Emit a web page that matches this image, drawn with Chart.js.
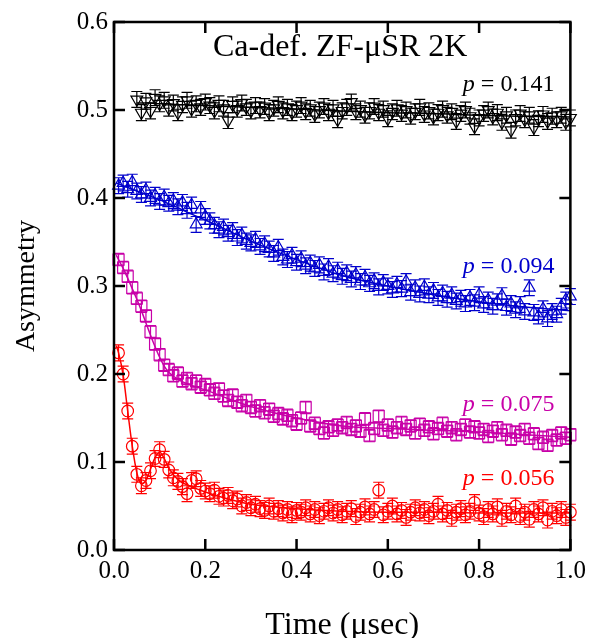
<!DOCTYPE html>
<html>
<head>
<meta charset="utf-8">
<script src="https://cdn.jsdelivr.net/npm/chart.js@4"></script>
<style>
	body { margin: 0; background: #fff; }
</style>
</head>
<body>
<canvas id="myChart" width="592" height="638"></canvas>
<script>
// time bins (usec)
const times = [
	0.01, 0.02, 0.03, 0.04, 0.05, 0.06, 0.07, 0.08, 0.09, 0.10,
	0.11, 0.12, 0.13, 0.14, 0.15, 0.16, 0.17, 0.18, 0.19, 0.20,
	0.21, 0.22, 0.23, 0.24, 0.25, 0.26, 0.27, 0.28, 0.29, 0.30,
	0.31, 0.32, 0.33, 0.34, 0.35, 0.36, 0.37, 0.38, 0.39, 0.40,
	0.41, 0.42, 0.43, 0.44, 0.45, 0.46, 0.47, 0.48, 0.49, 0.50,
	0.51, 0.52, 0.53, 0.54, 0.55, 0.56, 0.57, 0.58, 0.59, 0.60,
	0.61, 0.62, 0.63, 0.64, 0.65, 0.66, 0.67, 0.68, 0.69, 0.70,
	0.71, 0.72, 0.73, 0.74, 0.75, 0.76, 0.77, 0.78, 0.79, 0.80,
	0.81, 0.82, 0.83, 0.84, 0.85, 0.86, 0.87, 0.88, 0.89, 0.90,
	0.91, 0.92, 0.93, 0.94, 0.95, 0.96, 0.97, 0.98, 0.99, 1.00
];

// p = 0.141
const asymBlack = [
	null, null, null, null, 0.512, 0.497, 0.510, 0.499, 0.514, 0.507,
	0.511, 0.502, 0.508, 0.497, 0.506, 0.511, 0.501, 0.507, 0.503, 0.509,
	0.505, 0.499, 0.507, 0.502, 0.488, 0.506, 0.501, 0.508, 0.503, 0.499,
	0.505, 0.500, 0.504, 0.497, 0.502, 0.506, 0.499, 0.503, 0.497, 0.501,
	0.505, 0.498, 0.502, 0.495, 0.500, 0.504, 0.497, 0.502, 0.489, 0.499,
	0.503, 0.509, 0.498, 0.501, 0.494, 0.499, 0.504, 0.497, 0.501, 0.490,
	0.498, 0.502, 0.496, 0.500, 0.493, 0.498, 0.503, 0.495, 0.499, 0.492,
	0.497, 0.501, 0.494, 0.498, 0.487, 0.496, 0.500, 0.493, 0.481, 0.491,
	0.496, 0.500, 0.492, 0.497, 0.486, 0.494, 0.477, 0.491, 0.496, 0.489,
	0.494, 0.480, 0.490, 0.495, 0.487, 0.493, 0.489, 0.494, 0.486, 0.491
];

// p = 0.094
const asymBlue = [
	0.414, 0.417, 0.410, 0.418, 0.408, 0.404, 0.409, 0.400, 0.403, 0.396,
	0.401, 0.394, 0.397, 0.390, 0.395, 0.386, 0.392, 0.370, 0.387, 0.379,
	0.374, 0.369, 0.364, 0.367, 0.360, 0.363, 0.355, 0.358, 0.351, 0.349,
	0.353, 0.345, 0.348, 0.342, 0.337, 0.344, 0.333, 0.330, 0.335, 0.327,
	0.331, 0.323, 0.326, 0.320, 0.324, 0.316, 0.322, 0.314, 0.318, 0.311,
	0.315, 0.308, 0.313, 0.305, 0.310, 0.303, 0.306, 0.299, 0.304, 0.300,
	0.296, 0.302, 0.297, 0.305, 0.293, 0.298, 0.291, 0.299, 0.290, 0.295,
	0.287, 0.292, 0.285, 0.290, 0.283, 0.286, 0.280, 0.287, 0.281, 0.290,
	0.279, 0.284, 0.277, 0.282, 0.289, 0.276, 0.280, 0.273, 0.279, 0.271,
	0.298, 0.270, 0.266, 0.274, 0.263, 0.271, 0.268, 0.277, 0.284, 0.288
];

// p = 0.075
const asymMagenta = [
	0.330, 0.321, 0.311, 0.298, 0.286, 0.277, 0.266, 0.248, 0.234, 0.222,
	0.210, 0.205, 0.198, 0.201, 0.192, 0.195, 0.189, 0.192, 0.185, 0.188,
	0.182, 0.178, 0.183, 0.175, 0.170, 0.176, 0.168, 0.164, 0.170, 0.162,
	0.158, 0.164, 0.156, 0.160, 0.152, 0.155, 0.149, 0.153, 0.147, 0.143,
	0.150, 0.162, 0.141, 0.144, 0.138, 0.133, 0.140, 0.136, 0.142, 0.139,
	0.145, 0.137, 0.141, 0.135, 0.149, 0.130, 0.138, 0.152, 0.136, 0.142,
	0.134, 0.139, 0.145, 0.137, 0.141, 0.133, 0.143, 0.136, 0.140, 0.132,
	0.138, 0.144, 0.135, 0.139, 0.131, 0.137, 0.142, 0.134, 0.140, 0.133,
	0.137, 0.129, 0.135, 0.139, 0.131, 0.136, 0.126, 0.134, 0.130, 0.137,
	0.127, 0.132, 0.121, 0.128, 0.119, 0.130, 0.125, 0.133, 0.127, 0.131
];

// p = 0.056
const asymRed = [
	0.224, 0.200, 0.158, 0.118, 0.086, 0.073, 0.079, 0.090, 0.104, 0.114,
	0.103, 0.091, 0.082, 0.078, 0.072, 0.064, 0.079, 0.081, 0.070, 0.067,
	0.064, 0.068, 0.061, 0.059, 0.062, 0.056, 0.058, 0.050, 0.054, 0.048,
	0.052, 0.047, 0.045, 0.050, 0.044, 0.047, 0.042, 0.046, 0.040, 0.045,
	0.043, 0.048, 0.041, 0.046, 0.039, 0.044, 0.048, 0.042, 0.046, 0.040,
	0.044, 0.047, 0.038, 0.043, 0.049, 0.041, 0.046, 0.068, 0.040, 0.044,
	0.050, 0.041, 0.045, 0.037, 0.043, 0.048, 0.042, 0.046, 0.039, 0.044,
	0.052, 0.041, 0.045, 0.036, 0.043, 0.047, 0.040, 0.044, 0.054, 0.042,
	0.038, 0.046, 0.041, 0.049, 0.036, 0.044, 0.040, 0.050, 0.038, 0.043,
	0.035, 0.046, 0.041, 0.048, 0.034, 0.044, 0.039, 0.046, 0.037, 0.043
];

// fitted curves
const fitTimes = [0.005, 0.01, 0.02, 0.03, 0.04, 0.05, 0.06, 0.07, 0.08, 0.09, 0.10, 0.11, 0.12, 0.14, 0.16, 0.20, 0.25, 0.30, 0.40, 0.50, 0.60, 0.70, 0.80, 0.90, 1.00];
const fitBlack = [null, null, null, null, null, 0.508, 0.508, 0.508, 0.508, 0.507, 0.507, 0.507, 0.507, 0.506, 0.506, 0.505, 0.504, 0.503, 0.501, 0.499, 0.497, 0.496, 0.494, 0.493, 0.492];
const fitBlue = [0.417, 0.416, 0.414, 0.412, 0.410, 0.408, 0.406, 0.404, 0.402, 0.400, 0.398, 0.396, 0.393, 0.389, 0.384, 0.375, 0.363, 0.351, 0.330, 0.312, 0.300, 0.290, 0.282, 0.276, 0.272];
const fitMagenta = [0.335, 0.330, 0.320, 0.309, 0.297, 0.285, 0.272, 0.258, 0.244, 0.231, 0.219, 0.209, 0.202, 0.194, 0.189, 0.182, 0.172, 0.163, 0.150, 0.141, 0.138, 0.136, 0.134, 0.131, 0.128];
const fitRed = [0.232, 0.224, 0.199, 0.158, 0.118, 0.088, 0.075, 0.079, 0.092, 0.105, 0.111, 0.104, 0.093, 0.080, 0.074, 0.066, 0.058, 0.052, 0.047, 0.044, 0.043, 0.043, 0.042, 0.042, 0.042];

const xTicks = [0, 0.2, 0.4, 0.6, 0.8, 1.0];
const yTicks = [0, 0.1, 0.2, 0.3, 0.4, 0.5, 0.6];

const BLACK = '#000000', BLUE = '#0000cc', MAGENTA = '#c800a8', RED = '#ff0000';
const SERIF = "'Liberation Serif', 'Times New Roman', serif";

function pairs(xs, ys) {
	const out = [];
	xs.forEach((x, i) => { if (ys[i] != null) out.push({x: x, y: ys[i]}); });
	return out;
}

function dataSet(values, color, style, rot, radius, err) {
	return {
		data: pairs(times, values),
		borderColor: color,
		backgroundColor: 'rgba(0,0,0,0)',
		pointStyle: style,
		rotation: rot,
		pointRadius: radius,
		pointBorderWidth: 1.2,
		pointHoverRadius: radius,
		showLine: false,
		errorBar: err,
		clip: 8
	};
}

function fitSet(values, color) {
	return {
		data: pairs(fitTimes, values),
		borderColor: color,
		borderWidth: 1.5,
		pointRadius: 0,
		showLine: true,
		fill: false,
		cubicInterpolationMode: 'monotone',
		clip: 2
	};
}

// vertical error bars with caps, drawn under each dataset's markers
const errorBars = {
	id: 'errorBars',
	beforeDatasetDraw(chart, args) {
		const ds = chart.data.datasets[args.index];
		if (!ds.errorBar) return;
		const y = chart.scales.y;
		const ctx = chart.ctx;
		ctx.save();
		ctx.strokeStyle = ds.borderColor;
		ctx.lineWidth = 1.2;
		args.meta.data.forEach((pt, j) => {
			const v = ds.data[j].y;
			const top = y.getPixelForValue(v + ds.errorBar);
			const bot = y.getPixelForValue(v - ds.errorBar);
			ctx.beginPath();
			ctx.moveTo(pt.x, top); ctx.lineTo(pt.x, bot);
			ctx.moveTo(pt.x - 5.5, top); ctx.lineTo(pt.x + 5.5, top);
			ctx.moveTo(pt.x - 5.5, bot); ctx.lineTo(pt.x + 5.5, bot);
			ctx.stroke();
		});
		ctx.restore();
	}
};

// box frame with inward ticks on all four sides
const frame = {
	id: 'frame',
	afterDraw(chart) {
		const {ctx, chartArea: a, scales: {x, y}} = chart;
		ctx.save();
		ctx.strokeStyle = '#000';
		ctx.lineWidth = 2.5;
		ctx.strokeRect(a.left, a.top, a.right - a.left, a.bottom - a.top);
		ctx.beginPath();
		xTicks.forEach(t => {
			const px = x.getPixelForValue(t);
			ctx.moveTo(px, a.bottom); ctx.lineTo(px, a.bottom - 11);
			ctx.moveTo(px, a.top); ctx.lineTo(px, a.top + 11);
		});
		yTicks.forEach(t => {
			const py = y.getPixelForValue(t);
			ctx.moveTo(a.left, py); ctx.lineTo(a.left + 11, py);
			ctx.moveTo(a.right, py); ctx.lineTo(a.right - 11, py);
		});
		ctx.stroke();
		ctx.restore();
	}
};

// title and p labels
const labels = {
	id: 'labels',
	afterDraw(chart) {
		const {ctx, chartArea: a, scales: {x, y}} = chart;
		ctx.save();
		ctx.fillStyle = '#000';
		ctx.textBaseline = 'alphabetic';
		ctx.textAlign = 'center';
		ctx.font = '32px ' + SERIF;
		ctx.fillText('Ca-def. ZF-\u03BCSR 2K', (a.left + a.right) / 2 - 2, y.getPixelForValue(0.561));

		const tags = [
			['0.141', BLACK, 0.522],
			['0.094', BLUE, 0.315],
			['0.075', MAGENTA, 0.158],
			['0.056', RED, 0.074]
		];
		ctx.textAlign = 'left';
		tags.forEach(([val, col, yv]) => {
			const rest = ' = ' + val;
			ctx.font = '24px ' + SERIF;
			const wRest = ctx.measureText(rest).width;
			ctx.font = 'italic 24px ' + SERIF;
			const wP = ctx.measureText('p').width;
			const xr = x.getPixelForValue(0.965);
			const py = y.getPixelForValue(yv);
			ctx.fillStyle = col;
			ctx.fillText('p', xr - wRest - wP, py);
			ctx.font = '24px ' + SERIF;
			ctx.fillText(rest, xr - wRest, py);
		});
		ctx.restore();
	}
};

const tickFont = {family: SERIF, size: 25};

const config = {
	type: 'scatter',
	data: {
		datasets: [
			fitSet(fitRed, RED),
			dataSet(asymRed, RED, 'circle', 0, 5.8, 0.009),
			fitSet(fitMagenta, MAGENTA),
			dataSet(asymMagenta, MAGENTA, 'rect', 0, 7.8, 0.007),
			fitSet(fitBlue, BLUE),
			dataSet(asymBlue, BLUE, 'triangle', 0, 6.8, 0.009),
			fitSet(fitBlack, BLACK),
			dataSet(asymBlack, BLACK, 'triangle', 180, 6.8, 0.009)
		]
	},
	options: {
		responsive: false,
		animation: false,
		events: [],
		layout: { padding: {top: 22, right: 19, left: 0, bottom: 0} },
		plugins: {
			legend: { display: false },
			tooltip: { enabled: false }
		},
		scales: {
			x: {
				type: 'linear',
				min: 0,
				max: 1,
				afterFit: s => { s.height = 88; },
				afterBuildTicks: s => { s.ticks = xTicks.map(v => ({value: v})); },
				ticks: {
					callback: v => v.toFixed(1),
					font: tickFont,
					color: '#000',
					padding: 6,
					maxRotation: 0
				},
				grid: { display: false, drawTicks: false },
				border: { display: false },
				title: {
					display: true,
					text: 'Time (\u03BCsec)',
					font: {family: SERIF, size: 32},
					color: '#000',
					padding: {top: 0, bottom: -7}
				}
			},
			y: {
				min: 0,
				max: 0.6,
				afterFit: s => { s.width = 114; },
				afterBuildTicks: s => { s.ticks = yTicks.map(v => ({value: v})); },
				ticks: {
					callback: v => v.toFixed(1),
					font: tickFont,
					color: '#000',
					padding: 6
				},
				grid: { display: false, drawTicks: false },
				border: { display: false },
				title: {
					display: true,
					text: 'Asymmetry',
					font: {family: SERIF, size: 28},
					color: '#000',
					padding: {top: 10, bottom: 0}
				}
			}
		}
	},
	plugins: [errorBars, frame, labels]
};

const myChart = new Chart(document.getElementById('myChart'), config);
</script>
</body>
</html>
